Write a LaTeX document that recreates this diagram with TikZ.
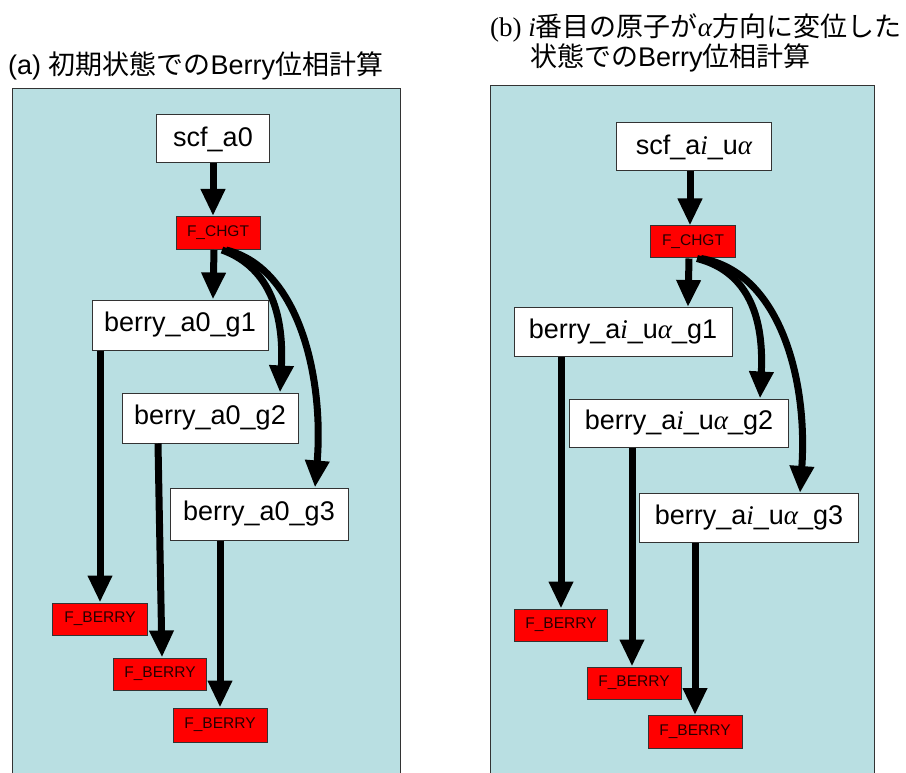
\documentclass[tikz,border=0pt]{standalone}
\usepackage{fontspec}
\setmainfont{Liberation Sans}
\newfontfamily\jp{Noto Sans CJK JP}
\newfontfamily\tms{Liberation Serif}
\usetikzlibrary{arrows.meta}
\definecolor{panelbg}{HTML}{B9DFE2}
\definecolor{boxred}{HTML}{FF0000}
\tikzset{
  panel/.style={draw=black!80, line width=1pt, fill=panelbg},
  wbox/.style={draw=black!80, line width=1pt, fill=white, inner sep=0pt,
    font=\fontsize{27}{31}\selectfont},
  rbox/.style={draw=black!80, line width=1pt, fill=boxred, inner sep=0pt,
    font=\fontsize{15.5}{18}\selectfont, text=black!85!red},
  arr/.style={line width=7pt, -{Triangle[width=23pt,length=27pt]}},
  ttl/.style={anchor=west, inner sep=0pt, font=\fontsize{27}{32}\selectfont}
}
\newcommand{\ital}{{\tms\itshape i}}
\newcommand{\alp}{{\tms\itshape α}}
\begin{document}
\begin{tikzpicture}[x=1pt,y=-1pt]
\useasboundingbox (0,0) rectangle (906,773);
\clip (0,0) rectangle (906,773);
% panels
\path[panel] (12,89) rectangle (400,790);
\path[panel] (490,86) rectangle (874,790);
% titles
\node[ttl] (ta) at (8,66) {(a) {\jp 初期状態での}Berry{\jp 位相計算}};
\node[ttl] (tb1) at (490,28) {{\tms (b) \itshape i}{\jp 番目の原子が}{\tms\itshape α}{\jp 方向に変位した}};
\node[ttl] (tb2) at (530,58) {{\jp 状態での}Berry{\jp 位相計算}};
% panel (a) nodes
\node[wbox, minimum width=113pt, minimum height=48pt] (ascf) at (213,139) {scf\_a0};
\node[rbox, minimum width=84pt, minimum height=33pt] (achgt) at (218,233) {F\_CHGT};
\node[wbox, minimum width=176pt, minimum height=50pt] (ag1) at (180,325) {berry\_a0\_g1};
\node[wbox, minimum width=176pt, minimum height=50pt] (ag2) at (210,418) {berry\_a0\_g2};
\node[wbox, minimum width=178pt, minimum height=52pt] (ag3) at (259,514) {berry\_a0\_g3};
\node[rbox, minimum width=95pt, minimum height=32pt] (ab1) at (100,619) {F\_BERRY};
\node[rbox, minimum width=93pt, minimum height=32pt] (ab2) at (160,674) {F\_BERRY};
\node[rbox, minimum width=94pt, minimum height=34pt] (ab3) at (220,725) {F\_BERRY};
% panel (a) connectors
\draw[arr] (ascf.south) -- (ascf.south |- achgt.north);
\draw[arr] ([xshift=-4pt]achgt.south) -- ([xshift=-5pt]achgt.south |- ag1.north);
\draw[arr] ([xshift=4pt]achgt.south) .. controls (272,268) and (284,318) .. ([xshift=70pt]ag2.north);
\draw[arr] ([xshift=8pt]achgt.south) .. controls (300,268) and (324,380) .. ([xshift=56pt]ag3.north);
\draw[arr] (ag1.south -| ab1.north) -- (ab1.north);
\draw[arr] ([xshift=-52pt]ag2.south) -- ([xshift=2pt]ab2.north);
\draw[arr] ([xshift=-39pt]ag3.south) -- (ab3.north);
% panel (b) nodes
\node[wbox, minimum width=155pt, minimum height=48pt] (bscf) at (694,147) {scf\_a\ital\_u\alp};
\node[rbox, minimum width=85pt, minimum height=32pt] (bchgt) at (693,242) {F\_CHGT};
\node[wbox, minimum width=218pt, minimum height=49pt] (bg1) at (623,332) {berry\_a\ital\_u\alp\_g1};
\node[wbox, minimum width=219pt, minimum height=48pt] (bg2) at (679,423) {berry\_a\ital\_u\alp\_g2};
\node[wbox, minimum width=219pt, minimum height=49pt] (bg3) at (749,518) {berry\_a\ital\_u\alp\_g3};
\node[rbox, minimum width=93pt, minimum height=32pt] (bb1) at (561,625) {F\_BERRY};
\node[rbox, minimum width=94pt, minimum height=32pt] (bb2) at (634,683) {F\_BERRY};
\node[rbox, minimum width=94pt, minimum height=33pt] (bb3) at (695,732) {F\_BERRY};
% panel (b) connectors
\draw[arr] ([xshift=-4pt]bscf.south) -- ([xshift=-4pt]bscf.south |- bchgt.north);
\draw[arr] ([xshift=-4pt]bchgt.south) -- ([xshift=-5pt]bchgt.south |- bg1.north);
\draw[arr] ([xshift=4pt]bchgt.south) .. controls (750,272) and (764,320) .. ([xshift=81pt]bg2.north);
\draw[arr] ([xshift=8pt]bchgt.south) .. controls (780,272) and (808,380) .. ([xshift=51pt]bg3.north);
\draw[arr] (bg1.south -| bb1.north) -- (bb1.north);
\draw[arr] ([xshift=-47pt]bg2.south) -- ([xshift=-2pt]bb2.north);
\draw[arr] ([xshift=-54pt]bg3.south) -- (bb3.north);
\end{tikzpicture}
\end{document}
